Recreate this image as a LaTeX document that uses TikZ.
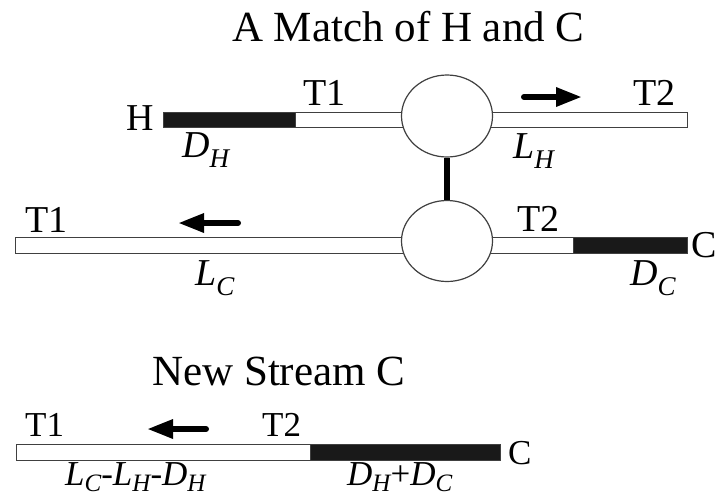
\documentclass[tikz,border=0pt]{standalone}
\usepackage{fontspec}
\setmainfont{Liberation Serif}
\usetikzlibrary{shapes.geometric,arrows.meta}
\newcommand\sbs[1]{\raisebox{-0.28em}{\fontsize{27}{30}\selectfont\itshape #1}}
\newcommand\sbsm[1]{\raisebox{-0.18em}{\fontsize{25}{28}\selectfont\itshape #1}}
\newcommand\lbl{\fontsize{38}{44}\selectfont}
\newcommand\lbls{\fontsize{35}{40}\selectfont}
\newcommand\ttl{\fontsize{43}{50}\selectfont}
\tikzset{
  barw/.style={draw=black!75, line width=1pt, fill=white},
  barb/.style={draw=black!75, line width=1pt, fill=black!90},
  junction/.style={ellipse, draw=black!75, line width=1.2pt, fill=white, minimum width=91pt, minimum height=82pt, inner sep=0pt},
  txt/.style={inner sep=0pt, font=\lbl},
  txts/.style={inner sep=0pt, font=\lbls},
  fatarrow/.style={line width=6pt, line cap=round, -{Triangle[length=26pt,width=18pt]}},
  link/.style={line width=6.5pt}
}
\begin{document}
\begin{tikzpicture}[x=1pt,y=-1pt]
\useasboundingbox (0,0) rectangle (722,496);
% title
\node[inner sep=0pt, font=\ttl, anchor=base west] (title) at (232,41) {A Match of H and C};
% top stream H
\draw[barb] (163,112) rectangle (295,127);
\draw[barw] (295,112) rectangle (447,127);
\draw[barw] (447,112) rectangle (687,127);
% lower stream C
\draw[barw] (15,237) rectangle (573,253);
\draw[barb] (573,237) rectangle (687,253);
% junctions
\node[junction] (m1) at (447,116) {};
\node[junction, minimum height=81pt] (m2) at (447,241) {};
\draw[link] (m1.south) -- (m2.north);
% labels top
\node[txt, anchor=east] (h) at (154,118) {H};
\node[txt, anchor=base west] (t1a) at (303,105) {T1};
\node[txt, anchor=base west] (t2a) at (633,105) {T2};
\node[txt, anchor=base west] (dh) at (182,157) {\textit{D}\sbs{H}};
\node[txt, anchor=base west] (lh) at (513,158) {\textit{L}\sbs{H}};
\coordinate (a1s) at (524,97);
\coordinate (a1e) at (582,97);
\draw[fatarrow] (a1s) -- (a1e);
% labels lower
\node[txt, anchor=base west] (t1b) at (25,232) {T1};
\node[txt, anchor=base west] (t2b) at (517,231) {T2};
\node[txt, anchor=west] (c1) at (691,245) {C};
\node[txt, anchor=base west] (lc) at (195,285) {\textit{L}\sbs{C}};
\node[txt, anchor=base west] (dc) at (630,285) {\textit{D}\sbs{C}};
\coordinate (a2s) at (238,223);
\coordinate (a2e) at (178,223);
\draw[fatarrow] (a2s) -- (a2e);
% new stream
\node[inner sep=0pt, font=\ttl, anchor=base west] (ns) at (152,385) {New Stream C};
\draw[barw] (16,444) rectangle (310,460);
\draw[barb] (310,444) rectangle (500,460);
\node[txts, anchor=base west] (t1c) at (25,436) {T1};
\node[txts, anchor=base west] (t2c) at (262,436) {T2};
\node[txts, anchor=west] (c2) at (508,453) {C};
\node[txts, anchor=base west] (lnew) at (65,485) {\textit{L}\sbsm{C}-\textit{L}\sbsm{H}-\textit{D}\sbsm{H}};
\node[txts, anchor=base west] (dnew) at (347,485) {\textit{D}\sbsm{H}+\textit{D}\sbsm{C}};
\coordinate (a3s) at (206,429);
\coordinate (a3e) at (147,429);
\draw[fatarrow] (a3s) -- (a3e);
\end{tikzpicture}
\end{document}
